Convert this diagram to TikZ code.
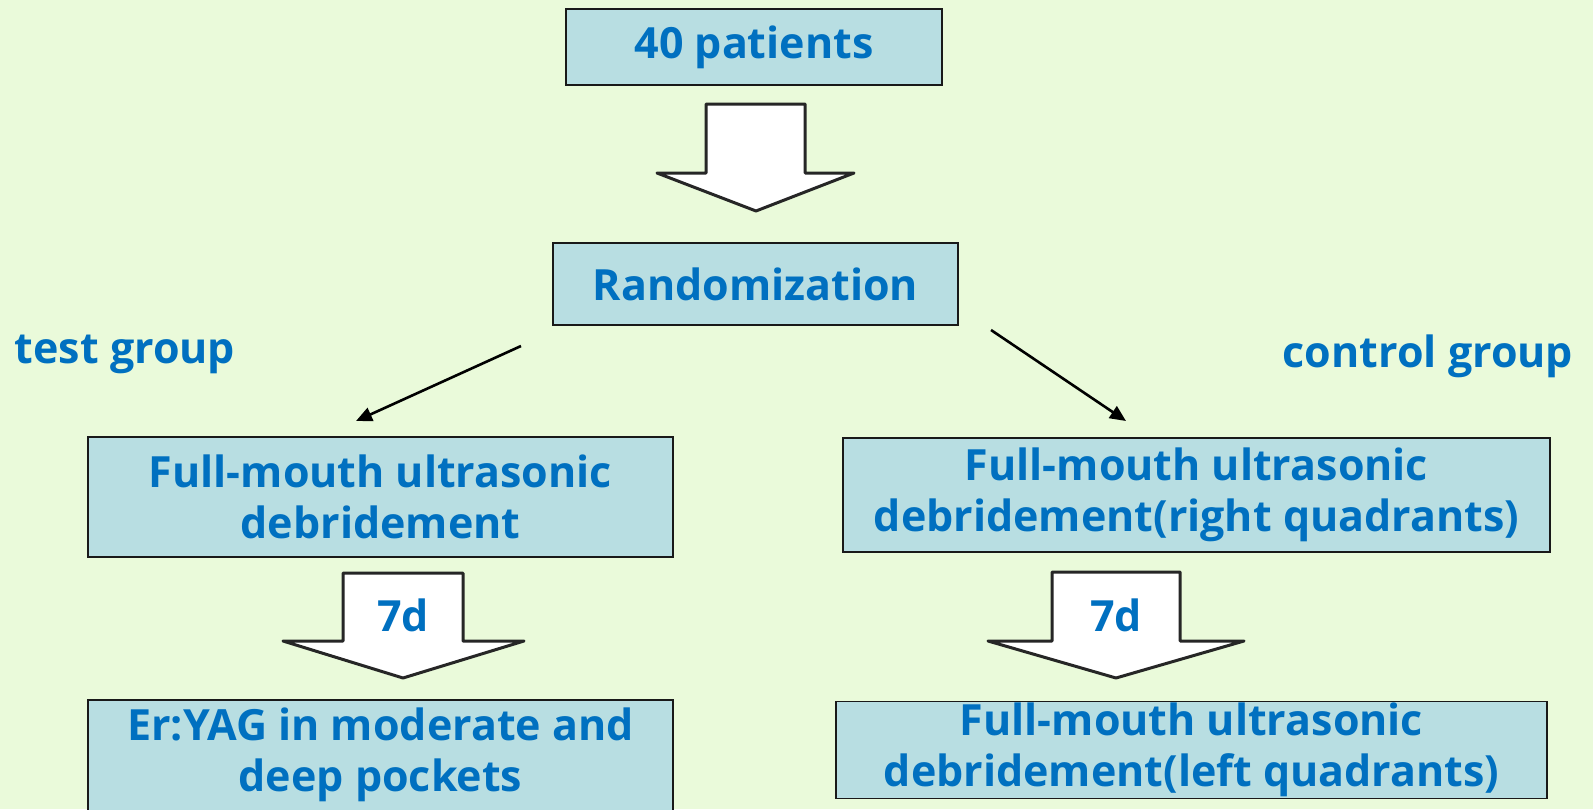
\documentclass[tikz,border=0pt]{standalone}
\usepackage{fontspec}
\setmainfont{Open Sans}
\usetikzlibrary{arrows.meta,backgrounds}
\definecolor{bgc}{RGB}{234,250,218}
\definecolor{boxc}{RGB}{184,222,226}
\definecolor{txtc}{RGB}{0,112,192}
\tikzset{
  boxst/.style={draw=black!90, fill=boxc, line width=1.6pt},
  txt/.style={text=txtc, font=\bfseries\fontsize{43}{51}\selectfont, align=center, inner sep=0pt},
  box/.style={boxst, txt},
  blockarrow/.style={draw=black!85, fill=white, line width=3pt, line join=round},
  thinarrow/.style={draw=black, line width=2.6pt, -{Triangle[length=16pt,width=14pt]}}
}
\begin{document}
\begin{tikzpicture}[x=1pt,y=-1pt]
\useasboundingbox (0,0) rectangle (1593,809);

\node[box, minimum width=376, minimum height=76] (p40) at (754,47) {40 patients};
\node[box, minimum width=405, minimum height=82] (rand) at (755.5,284) {Randomization};
\node[txt] (tg) at (125,354) {test group};
\node[txt] (cg) at (1428,356) {control group};
\node[box, minimum width=585, minimum height=120] (lb2) at (380.5,497) {Full-mouth ultrasonic\\debridement};
\node[box, minimum width=707, minimum height=114] (rb2) at (1196.5,495) {Full-mouth ultrasonic\\debridement(right quadrants)};
\node[txt, minimum width=585, minimum height=110] (lb3) at (380.5,755) {Er:YAG in moderate and\\deep pockets};
\node[box, minimum width=711, minimum height=97] (rb3) at (1191.5,750) {Full-mouth ultrasonic\\debridement(left quadrants)};

\begin{scope}[on background layer]
\fill[bgc] (0,0) rectangle (1593,809);
\draw[boxst] (lb3.north west) rectangle ([yshift=-40pt]lb3.south east);
\end{scope}

% block arrows
\draw[blockarrow] (706,104) -- (805,104) -- (805,173) -- (854,173) -- (756,211) -- (657,173) -- (706,173) -- cycle;
\draw[blockarrow] (343,573) -- (463,573) -- (463,641) -- (524,641) -- (403,678) -- (283,641) -- (343,641) -- cycle;
\draw[blockarrow] (1052,572) -- (1180,572) -- (1180,641) -- (1244,641) -- (1116,678) -- (988,641) -- (1052,641) -- cycle;
\node[txt] (d1) at (403,615) {7d};
\node[txt] (d2) at (1116,615) {7d};

% thin arrows
\coordinate (la1) at (521,346);
\coordinate (la2) at (356,421);
\coordinate (ra1) at (991,330);
\coordinate (ra2) at (1126,421);
\draw[thinarrow] (la1) -- (la2);
\draw[thinarrow] (ra1) -- (ra2);
\end{tikzpicture}
\end{document}
